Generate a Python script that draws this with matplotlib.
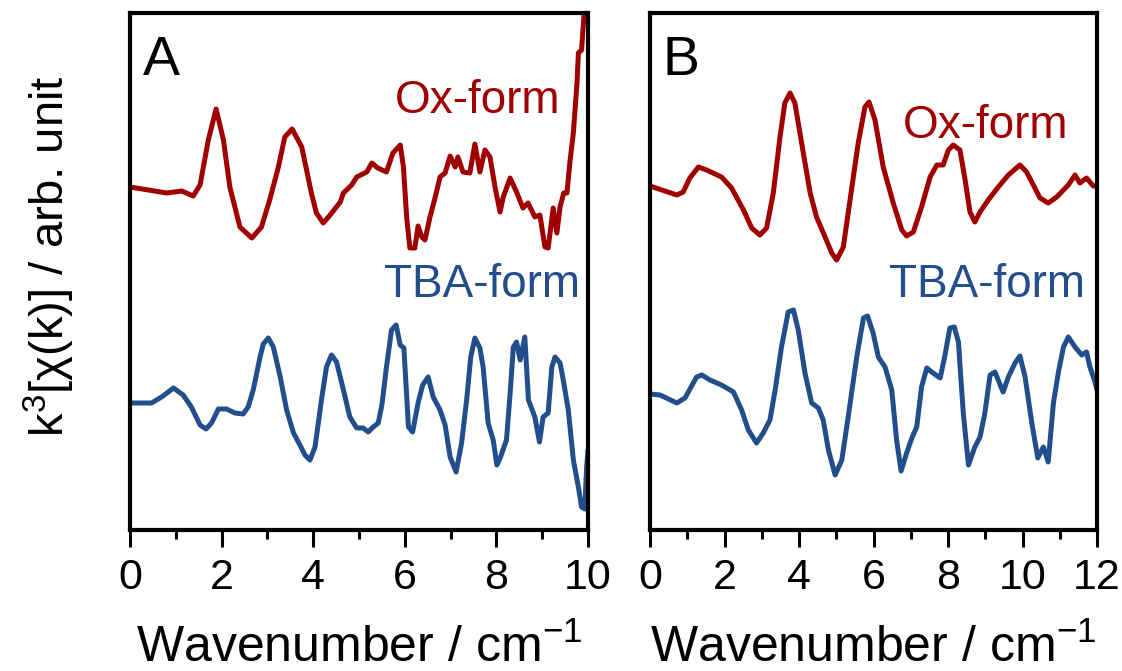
import matplotlib
matplotlib.use("Agg")
import matplotlib.pyplot as plt
from matplotlib.ticker import MultipleLocator

plt.rcParams['font.family'] = ['Liberation Sans', 'DejaVu Sans']
plt.rcParams['mathtext.fontset'] = 'custom'
plt.rcParams['mathtext.rm'] = 'Liberation Sans'
plt.rcParams['mathtext.it'] = 'Liberation Sans:italic'

RED = '#a00000'
BLUE = '#234e8c'

# panel A
kA_ox = [0, 0.8, 1.13, 1.38, 1.53, 1.71, 1.88, 2.04, 2.18, 2.4, 2.66, 2.87, 3.05, 3.24, 3.38,
         3.54, 3.75, 3.96, 4.07, 4.22, 4.37, 4.59, 4.66, 4.84, 4.95, 5.17, 5.28, 5.41, 5.60, 5.74,
         5.90, 5.97, 6.04, 6.11, 6.22, 6.29, 6.37, 6.44, 6.55, 6.66, 6.77, 6.88, 6.99, 7.10, 7.16,
         7.27, 7.42, 7.53, 7.64, 7.75, 7.86, 7.97, 8.08, 8.15, 8.30, 8.44, 8.58, 8.69, 8.84, 8.95,
         9.06, 9.13, 9.24, 9.32, 9.39, 9.47, 9.54, 9.61, 9.68, 9.76, 9.79, 9.86, 9.91, 9.96, 10.0]
yA_ox = [3.43, 3.37, 3.39, 3.34, 3.45, 3.90, 4.21, 3.90, 3.43, 3.03, 2.92, 3.03, 3.30, 3.63, 3.93,
         4.01, 3.83, 3.37, 3.17, 3.07, 3.15, 3.28, 3.37, 3.45, 3.53, 3.58, 3.67, 3.62, 3.58, 3.77,
         3.85, 3.63, 3.13, 2.82, 2.82, 3.04, 2.93, 2.90, 3.13, 3.32, 3.53, 3.57, 3.74, 3.63, 3.73,
         3.58, 3.57, 3.86, 3.58, 3.80, 3.73, 3.43, 3.18, 3.33, 3.52, 3.38, 3.22, 3.27, 3.13, 3.15,
         2.83, 2.82, 3.22, 2.97, 3.23, 3.37, 3.37, 3.70, 3.97, 4.47, 4.77, 4.80, 5.13, 5.35, 5.50]

kA_tba = [0, 0.47, 0.69, 0.95, 1.16, 1.34, 1.53, 1.66, 1.78, 1.93, 2.11, 2.29, 2.47, 2.58, 2.69,
          2.84, 2.91, 3.02, 3.13, 3.28, 3.42, 3.57, 3.71, 3.82, 3.93, 4.04, 4.18, 4.29, 4.40, 4.51,
          4.66, 4.80, 4.95, 5.09, 5.20, 5.31, 5.42, 5.50, 5.60, 5.71, 5.81, 5.90, 5.98, 6.08, 6.17,
          6.29, 6.39, 6.51, 6.62, 6.77, 6.88, 6.99, 7.12, 7.24, 7.35, 7.44, 7.53, 7.64, 7.71, 7.82,
          7.93, 8.01, 8.09, 8.22, 8.30, 8.37, 8.44, 8.52, 8.62, 8.70, 8.84, 8.94, 9.02, 9.13, 9.21,
          9.28, 9.39, 9.46, 9.57, 9.68, 9.79, 9.86, 9.93, 9.97, 10.0]
yA_tba = [1.27, 1.27, 1.33, 1.42, 1.35, 1.23, 1.05, 1.01, 1.07, 1.21, 1.21, 1.17, 1.16, 1.23, 1.40,
          1.73, 1.86, 1.92, 1.83, 1.53, 1.20, 0.97, 0.85, 0.75, 0.70, 0.83, 1.30, 1.63, 1.75, 1.68,
          1.40, 1.13, 1.02, 1.02, 0.98, 1.03, 1.07, 1.25, 1.63, 2.00, 2.05, 1.85, 1.82, 1.03, 0.98,
          1.27, 1.45, 1.53, 1.33, 1.20, 1.05, 0.73, 0.58, 0.87, 1.30, 1.73, 1.92, 1.82, 1.63, 1.07,
          0.90, 0.65, 0.73, 0.90, 1.37, 1.83, 1.88, 1.70, 1.93, 1.30, 1.13, 0.88, 1.13, 1.17, 1.63,
          1.73, 1.67, 1.50, 1.20, 0.70, 0.43, 0.23, 0.21, 0.63, 0.80]

# panel B
kB_ox = [0, 0.40, 0.72, 0.89, 1.07, 1.30, 1.52, 1.92, 2.19, 2.51, 2.73, 2.95, 3.13, 3.31, 3.49,
         3.62, 3.76, 3.89, 4.07, 4.30, 4.47, 4.70, 4.88, 5.01, 5.19, 5.37, 5.59, 5.77, 5.88, 6.04,
         6.26, 6.53, 6.76, 6.89, 7.07, 7.29, 7.52, 7.70, 7.87, 8.01, 8.14, 8.32, 8.46, 8.59, 8.72,
         8.86, 9.08, 9.35, 9.62, 9.93, 10.11, 10.29, 10.47, 10.69, 10.92, 11.10, 11.23, 11.41, 11.54, 11.72,
         11.90, 12.0]
yB_ox = [3.44, 3.39, 3.35, 3.38, 3.52, 3.63, 3.60, 3.53, 3.42, 3.20, 3.02, 2.95, 3.02, 3.37, 3.93,
         4.27, 4.37, 4.27, 3.87, 3.37, 3.13, 2.93, 2.77, 2.70, 2.83, 3.30, 3.87, 4.23, 4.28, 4.10,
         3.63, 3.27, 3.00, 2.94, 2.98, 3.23, 3.53, 3.65, 3.65, 3.80, 3.85, 3.80, 3.50, 3.18, 3.08,
         3.18, 3.30, 3.43, 3.55, 3.65, 3.58, 3.45, 3.32, 3.27, 3.33, 3.40, 3.45, 3.55, 3.47, 3.52,
         3.44, 3.44]

kB_tba = [0, 0.27, 0.72, 0.94, 1.25, 1.39, 1.61, 1.92, 2.24, 2.46, 2.64, 2.86, 3.04, 3.22, 3.36,
          3.53, 3.71, 3.85, 3.98, 4.16, 4.34, 4.52, 4.65, 4.79, 4.97, 5.15, 5.32, 5.55, 5.73, 5.84,
          5.99, 6.13, 6.31, 6.49, 6.62, 6.74, 6.89, 7.03, 7.16, 7.29, 7.43, 7.56, 7.79, 7.92, 8.05,
          8.17, 8.28, 8.41, 8.55, 8.72, 8.86, 8.99, 9.13, 9.26, 9.48, 9.62, 9.80, 9.93, 10.07, 10.25,
          10.41, 10.56, 10.69, 10.83, 10.96, 11.10, 11.23, 11.41, 11.59, 11.72, 11.81, 11.93, 12.0]
yB_tba = [1.36, 1.35, 1.27, 1.32, 1.53, 1.55, 1.50, 1.45, 1.38, 1.20, 1.00, 0.87, 0.97, 1.10, 1.40,
          1.83, 2.18, 2.20, 2.00, 1.57, 1.27, 1.22, 1.10, 0.80, 0.55, 0.70, 1.13, 1.73, 2.12, 2.14,
          1.97, 1.73, 1.63, 1.40, 0.90, 0.59, 0.77, 0.92, 1.03, 1.43, 1.62, 1.58, 1.52, 1.75, 2.02,
          2.03, 1.88, 1.17, 0.65, 0.83, 0.93, 1.17, 1.55, 1.58, 1.38, 1.53, 1.67, 1.74, 1.53, 1.07,
          0.72, 0.83, 0.68, 1.27, 1.57, 1.83, 1.93, 1.83, 1.75, 1.78, 1.63, 1.50, 1.40]

fig = plt.figure(figsize=(11.22, 6.71), dpi=100)
axA = fig.add_axes([130/1122, 1-530/671, 458/1122, 517/671])
axB = fig.add_axes([650/1122, 1-530/671, 447/1122, 517/671])

panels = [
    (axA, kA_ox, yA_ox, kA_tba, yA_tba, 10, 'A', (0.028, 0.880), (0.939, 0.807), (0.983, 0.451)),
    (axB, kB_ox, yB_ox, kB_tba, yB_tba, 12, 'B', (0.029, 0.880), (0.935, 0.758), (0.973, 0.451)),
]

for ax, kox, yox, ktba, ytba, xmax, letter, lpos, opos, tpos in panels:
    ax.plot(kox, yox, color=RED, lw=3.6, solid_joinstyle='round', solid_capstyle='round')
    ax.plot(ktba, ytba, color=BLUE, lw=3.6, solid_joinstyle='round', solid_capstyle='round')
    ax.set_xlim(0, xmax)
    ax.set_ylim(0, 5.17)
    ax.set_yticks([])
    ax.xaxis.set_major_locator(MultipleLocator(2))
    ax.xaxis.set_minor_locator(MultipleLocator(1))
    ax.tick_params(axis='x', which='major', direction='out', length=12.5, width=2.2,
                   labelsize=31, pad=8)
    ax.tick_params(axis='x', which='minor', direction='out', length=6.5, width=2.2)
    for s in ax.spines.values():
        s.set_linewidth(3)
    ax.set_xlabel('Wavenumber / cm$^{-1}$', fontsize=36, labelpad=19)
    ax.text(lpos[0], lpos[1], letter, transform=ax.transAxes, fontsize=40,
            ha='left', va='baseline')
    ax.text(opos[0], opos[1], 'Ox-form', transform=ax.transAxes, fontsize=33,
            color=RED, ha='right', va='baseline')
    ax.text(tpos[0], tpos[1], 'TBA-form', transform=ax.transAxes, fontsize=33,
            color=BLUE, ha='right', va='baseline')

axA.set_ylabel('k$^{3}$[χ(k)] / arb. unit', fontsize=34)
axA.yaxis.set_label_coords(-0.115, 0.53)

fig.savefig('out.png', dpi=100)
